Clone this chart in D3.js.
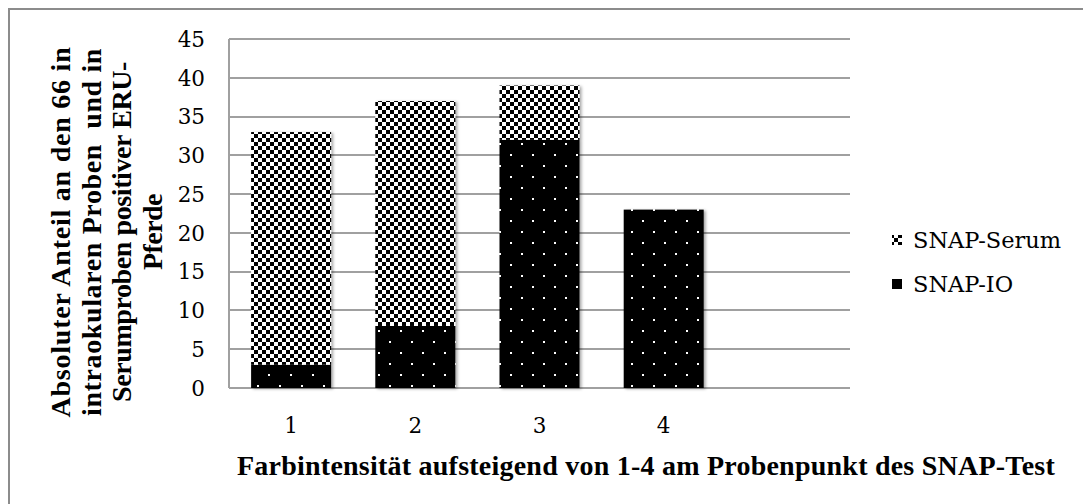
<!DOCTYPE html>
<html lang="de">
<head>
<meta charset="utf-8">
<title>SNAP-Test Farbintensität</title>
<script src="https://cdnjs.cloudflare.com/ajax/libs/d3/7.8.5/d3.min.js"></script>
<style>
  body { margin: 0; background: #fff; }
  .grid line { stroke: #a0a0a0; stroke-width: 2px; shape-rendering: crispEdges; }
  .tick-label { font-family: "DejaVu Serif", serif; font-size: 21.5px; fill: #000; }
  .title { font-family: "Liberation Serif", serif; font-weight: bold; font-size: 28px; fill: #000; }
  .legend-text { font-family: "DejaVu Serif", serif; font-size: 22.5px; fill: #000; }
</style>
</head>
<body>
<svg id="chart" width="1083" height="504"></svg>
<script>
// data
var categories = ["1", "2", "3", "4"];
var snapIO = [3, 8, 32, 23];
var snapSerum = [30, 29, 7, 0];
var yTicks = [0, 5, 10, 15, 20, 25, 30, 35, 40, 45];
var seriesNames = ["SNAP-Serum", "SNAP-IO"];
var yTitleLines = ["Absoluter Anteil an den 66 in", "intraokularen Proben  und in", "Serumproben positiver ERU-", "Pferde"];
var xTitle = "Farbintensität aufsteigend von 1-4 am Probenpunkt des SNAP-Test";

var svg = d3.select("#chart");
var plotL = 229, plotR = 850, plotT = 39, plotB = 388;
var step = (plotR - plotL) / 5;

// spread a text's letters so it takes the width it has in the picture
function fitWidth(sel, target) {
  var n = sel.text().length;
  var w = sel.node().getComputedTextLength();
  sel.style("letter-spacing", ((target - w) / n) + "px");
}

// outer frame (right/bottom edges fall outside the picture)
svg.append("rect")
  .attr("x", 9).attr("y", 9).attr("width", 1100).attr("height", 520)
  .attr("fill", "none").attr("stroke", "#8c8c8c").attr("stroke-width", 2);

var defs = svg.append("defs");

// checker / diamond pattern for SNAP-Serum
var pSerum = defs.append("pattern")
  .attr("id", "patSerum").attr("patternUnits", "userSpaceOnUse")
  .attr("width", 8).attr("height", 8);
pSerum.append("rect").attr("width", 8).attr("height", 8).attr("fill", "#fff");
[[0,0],[2,2],[4,4],[6,6],[6,0],[4,2],[2,4],[0,6]].forEach(function(c){
  pSerum.append("rect").attr("x", c[0]).attr("y", c[1]).attr("width", 2).attr("height", 2).attr("fill", "#000");
});

// black with white dots for SNAP-IO
var pIO = defs.append("pattern")
  .attr("id", "patIO").attr("patternUnits", "userSpaceOnUse")
  .attr("x", 4).attr("y", 0)
  .attr("width", 22).attr("height", 22);
pIO.append("rect").attr("width", 22).attr("height", 22).attr("fill", "#000");
pIO.append("rect").attr("x", 0).attr("y", 0).attr("width", 2).attr("height", 2).attr("fill", "#fff");
pIO.append("rect").attr("x", 11).attr("y", 11).attr("width", 2).attr("height", 2).attr("fill", "#fff");

var shadow = defs.append("filter").attr("id", "shadow")
  .attr("x", "-10%").attr("y", "-10%").attr("width", "130%").attr("height", "130%");
shadow.append("feDropShadow")
  .attr("dx", 2).attr("dy", 1).attr("stdDeviation", 1.5)
  .attr("flood-color", "#000").attr("flood-opacity", 0.35);

var x = d3.scaleBand()
  .domain(categories)
  .range([plotL, plotL + 4 * step])
  .paddingInner(0.356)
  .paddingOuter(0.178);

var y = d3.scaleLinear().domain([0, 45]).range([plotB, plotT]);

// gridlines
var grid = svg.append("g").attr("class", "grid");
grid.selectAll("line.h").data(yTicks).enter().append("line")
  .attr("class", "h")
  .attr("x1", plotL).attr("x2", plotR)
  .attr("y1", function(d){ return Math.round(y(d)); })
  .attr("y2", function(d){ return Math.round(y(d)); });
grid.append("line")
  .attr("x1", plotL).attr("x2", plotL)
  .attr("y1", Math.round(y(45))).attr("y2", Math.round(y(0)));

// y tick labels
svg.append("g").selectAll("text").data(yTicks).enter().append("text")
  .attr("class", "tick-label")
  .attr("x", 205)
  .attr("y", function(d){ return y(d); })
  .attr("dy", "0.36em")
  .attr("text-anchor", "end")
  .text(function(d){ return d; });

// x tick labels
svg.append("g").selectAll("text").data(categories).enter().append("text")
  .attr("class", "tick-label")
  .attr("x", function(d){ return x(d) + x.bandwidth() / 2; })
  .attr("y", 433)
  .attr("text-anchor", "middle")
  .text(function(d){ return d; });

// stacked bars
var stacked = categories.map(function(c, i){
  return { cat: c, io: snapIO[i], serum: snapSerum[i] };
});
var bars = svg.append("g").attr("filter", "url(#shadow)");
bars.selectAll("rect.io").data(stacked).enter().append("rect")
  .attr("class", "io")
  .attr("x", function(d){ return x(d.cat); })
  .attr("width", x.bandwidth())
  .attr("y", function(d){ return y(d.io); })
  .attr("height", function(d){ return y(0) - y(d.io); })
  .attr("fill", "url(#patIO)");
bars.selectAll("rect.serum").data(stacked.filter(function(d){ return d.serum > 0; })).enter().append("rect")
  .attr("class", "serum")
  .attr("x", function(d){ return x(d.cat); })
  .attr("width", x.bandwidth())
  .attr("y", function(d){ return y(d.io + d.serum); })
  .attr("height", function(d){ return y(d.io) - y(d.io + d.serum); })
  .attr("fill", "url(#patSerum)");

// legend
var legend = svg.append("g");
var legendFill = ["url(#patSerum)", "url(#patIO)"];
var legendY = [240, 284];
seriesNames.forEach(function(name, i){
  legend.append("rect")
    .attr("x", 892).attr("y", legendY[i] - 5)
    .attr("width", 10).attr("height", 10)
    .attr("fill", legendFill[i]);
  legend.append("text")
    .attr("class", "legend-text")
    .attr("x", 913).attr("y", legendY[i])
    .attr("dy", "0.36em")
    .text(name);
});

// axis titles
var xt = svg.append("text")
  .attr("class", "title")
  .attr("x", 237).attr("y", 475)
  .text(xTitle);
fitWidth(xt, 818);

var yTitleLen = [371, 368, 340, 76];
var yTitle = svg.append("g")
  .attr("transform", "translate(0,232) rotate(-90)");
yTitleLines.forEach(function(line, i){
  var t = yTitle.append("text")
    .attr("class", "title")
    .attr("x", -yTitleLen[i] / 2)
    .attr("y", 70 + i * 30.5)
    .style("white-space", "pre")
    .text(line);
  fitWidth(t, yTitleLen[i]);
});
</script>
</body>
</html>
